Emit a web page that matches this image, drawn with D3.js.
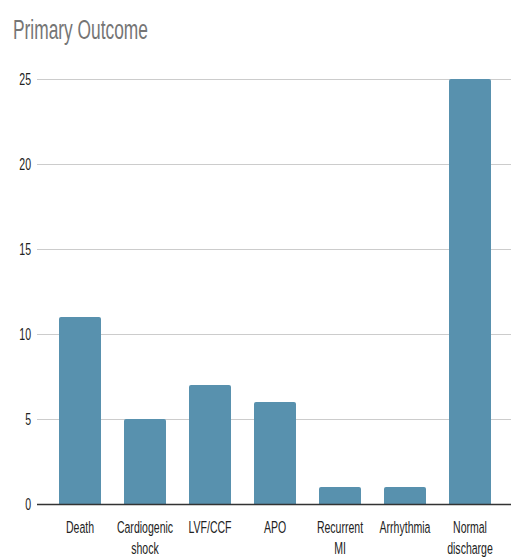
<!DOCTYPE html>
<html>
<head>
<meta charset="utf-8">
<script src="https://cdn.jsdelivr.net/npm/d3@7"></script>
<style>
  html, body { margin: 0; padding: 0; background: #fff; }
  svg { display: block; }
  text { font-family: "Liberation Sans", Arial, sans-serif; }
</style>
</head>
<body>
<svg id="chart" width="511" height="558"></svg>
<script>
// Primary outcome counts per category
const categories = [
  ["Death"],
  ["Cardiogenic", "shock"],
  ["LVF/CCF"],
  ["APO"],
  ["Recurrent", "MI"],
  ["Arrhythmia"],
  ["Normal", "discharge"]
];
const values = [11, 5, 7, 6, 1, 1, 25];
const yTicks = [0, 5, 10, 15, 20, 25];
const title = "Primary Outcome";

const svg = d3.select("#chart");
const W = 511, H = 558;
const margin = { top: 79, right: 0, bottom: 54, left: 37 };
const baseY = H - margin.bottom; // 504
const narrow = 0.62; // horizontal squeeze for the condensed lettering

const keys = categories.map(c => c.join(" "));
const x = d3.scaleBand()
  .domain(keys)
  .range([47.5, 502.5])
  .paddingInner(0.354)
  .paddingOuter(0.177);

const y = d3.scaleLinear()
  .domain([0, 25])
  .range([baseY, margin.top]);

// condensed text helper
function condensed(parent, px, py, str, size, fill, anchor) {
  return parent.append("text")
    .attr("transform", `translate(${px},${py}) scale(${narrow},1)`)
    .attr("font-size", size)
    .attr("fill", fill)
    .attr("text-anchor", anchor || "start")
    .text(str);
}

// Title
condensed(svg, 13, 39, title, 28, "#757575");

// Gridlines
const yAxis = d3.axisLeft(y).tickValues(yTicks).tickSize(0).tickFormat("");
const gy = svg.append("g").attr("transform", `translate(${margin.left},0)`).call(yAxis);
gy.select(".domain").remove();
gy.selectAll(".tick text").remove();
gy.selectAll(".tick line")
  .attr("x2", W - margin.left)
  .attr("stroke", "#cccccc")
  .attr("stroke-width", 1);

// y labels
const gl = svg.append("g");
yTicks.forEach(t => condensed(gl, 31, y(t) + 6, d3.format("d")(t), 17, "#222", "end"));

// Bars with slightly rounded tops
const r = 2;
svg.append("g").selectAll("path")
  .data(values)
  .join("path")
  .attr("fill", "#5891AE")
  .attr("d", (v, i) => {
    const x0 = x(keys[i]), w = x.bandwidth();
    const y0 = y(v), y1 = y(0);
    return `M${x0},${y1}V${y0 + r}Q${x0},${y0} ${x0 + r},${y0}H${x0 + w - r}Q${x0 + w},${y0} ${x0 + w},${y0 + r}V${y1}Z`;
  });

// Baseline
svg.append("line")
  .attr("x1", margin.left).attr("x2", W)
  .attr("y1", y(0) + 0.5).attr("y2", y(0) + 0.5)
  .attr("stroke", "#333")
  .attr("stroke-width", 1.5);

// Category labels
const gx = svg.append("g");
categories.forEach((lines, i) => {
  const cx = x(keys[i]) + x.bandwidth() / 2;
  lines.forEach((ln, j) => condensed(gx, cx, 533 + j * 21, ln, 17, "#222", "middle"));
});
</script>
</body>
</html>
